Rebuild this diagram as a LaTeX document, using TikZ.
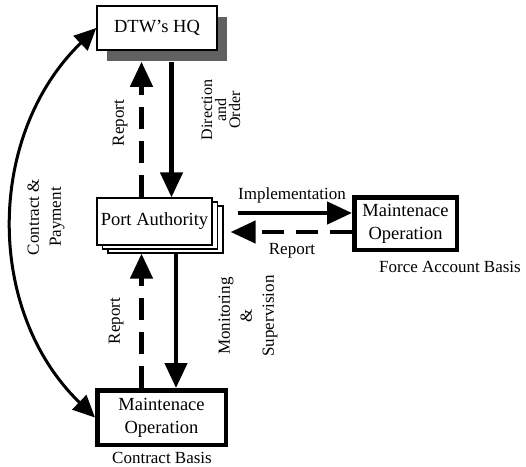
\documentclass[tikz,border=0pt]{standalone}
\usepackage{fontspec}
\setmainfont{Liberation Serif}
\usetikzlibrary{arrows.meta, shadows}
\newcommand{\boxfont}{\fontsize{18.5}{23}\selectfont}
\newcommand{\lblfont}{\fontsize{17}{22}\selectfont}
\tikzstyle{orgbox}    = [rectangle, draw=black, fill=white, line width=1.2pt, minimum width=115pt,
                         minimum height=47pt, text centered, font=\boxfont]
\tikzstyle{hqbox}     = [orgbox, minimum width=120pt, minimum height=44pt, line width=1.5pt,
                         drop shadow={shadow xshift=10pt, shadow yshift=-11pt, fill=black!62, opacity=1}]
\tikzstyle{pabox}     = [orgbox, double copy shadow={shadow xshift=5.5pt, shadow yshift=-4pt}]
\tikzstyle{opbox}     = [rectangle, draw=black, fill=white, line width=4.5pt, align=center, font=\boxfont]
\tikzstyle{arrow}     = [line width=4.5pt, -{Triangle[length=25pt, width=22pt]}]
\tikzstyle{dasharrow} = [arrow, dash pattern=on 22pt off 12pt]
\tikzstyle{bentarrow} = [line width=3pt, {Triangle[length=22pt, width=20pt]}-{Triangle[length=22pt, width=20pt]}]
\tikzstyle{lbl}       = [font=\lblfont, align=center, inner sep=0pt]

\begin{document}
\begin{tikzpicture}[x=1pt, y=-1pt]
    \useasboundingbox (0,0) rectangle (526,466);
    \node (hq) [hqbox] at (157,28) {DTW's HQ};
    \node (pa) [pabox] at (154.5,221.5) {Port Authority};
    \node (mf) [opbox, minimum width=102.5pt, minimum height=52.5pt] at (405.5,223.5) {Maintenace\\Operation};
    \node (mc) [opbox, minimum width=128.5pt, minimum height=54.5pt] at (161.5,417.5) {Maintenace\\Operation};
    % ends of the arrows
    \coordinate (hqs) at ([yshift=-11pt]hq.south);
    \coordinate (pas) at ([yshift=-8pt]pa.south);
    \coordinate (ie) at ([yshift=10.5pt]mf.west);
    \coordinate (re) at ([yshift=-8.5pt]mf.west);
    \draw[dasharrow] ([xshift=-13pt]pa.north) -- ([xshift=-13pt]pa.north |- hqs);
    \draw[arrow] ([xshift=17pt]pa.north |- hqs) -- ([xshift=17pt]pa.north);
    \draw[dasharrow] ([xshift=-13pt]pa.south |- mc.north) -- ([xshift=-13pt]pa.south |- pas);
    \draw[arrow] ([xshift=21.5pt]pa.south |- pas) -- ([xshift=21.5pt]pa.south |- mc.north);
    \draw[arrow] ([xshift=25pt]pa.east |- ie) -- (ie);
    \draw[dasharrow] (re) -- ([xshift=18pt]pa.east |- re);
    \draw[bentarrow] (hq.west) .. controls (-14,135) and (-15,311) .. (mc.west);
    % labels
    \node (l1) [lbl, rotate=90] at (120,123) {Report};
    \node (l2) [lbl, rotate=90, font=\fontsize{16}{14}\selectfont] at (221,110) {Direction\\and\\Order};
    \node (l3) [lbl, rotate=90] at (46,217) {Contract \&\\Payment};
    \node (l4) [lbl, rotate=90] at (116,321) {Report};
    \node (l5) [lbl, rotate=90] at (248,316) {Monitoring\\\&\\Supervision};
    \node (l6) [lbl] at (292,195) {Implementation};
    \node (l7) [lbl] at (292,251) {Report};
    \node (l8) [lbl] at (450,267) {Force Account Basis};
    \node (l9) [lbl] at (162,458) {Contract Basis};
\end{tikzpicture}
\end{document}
